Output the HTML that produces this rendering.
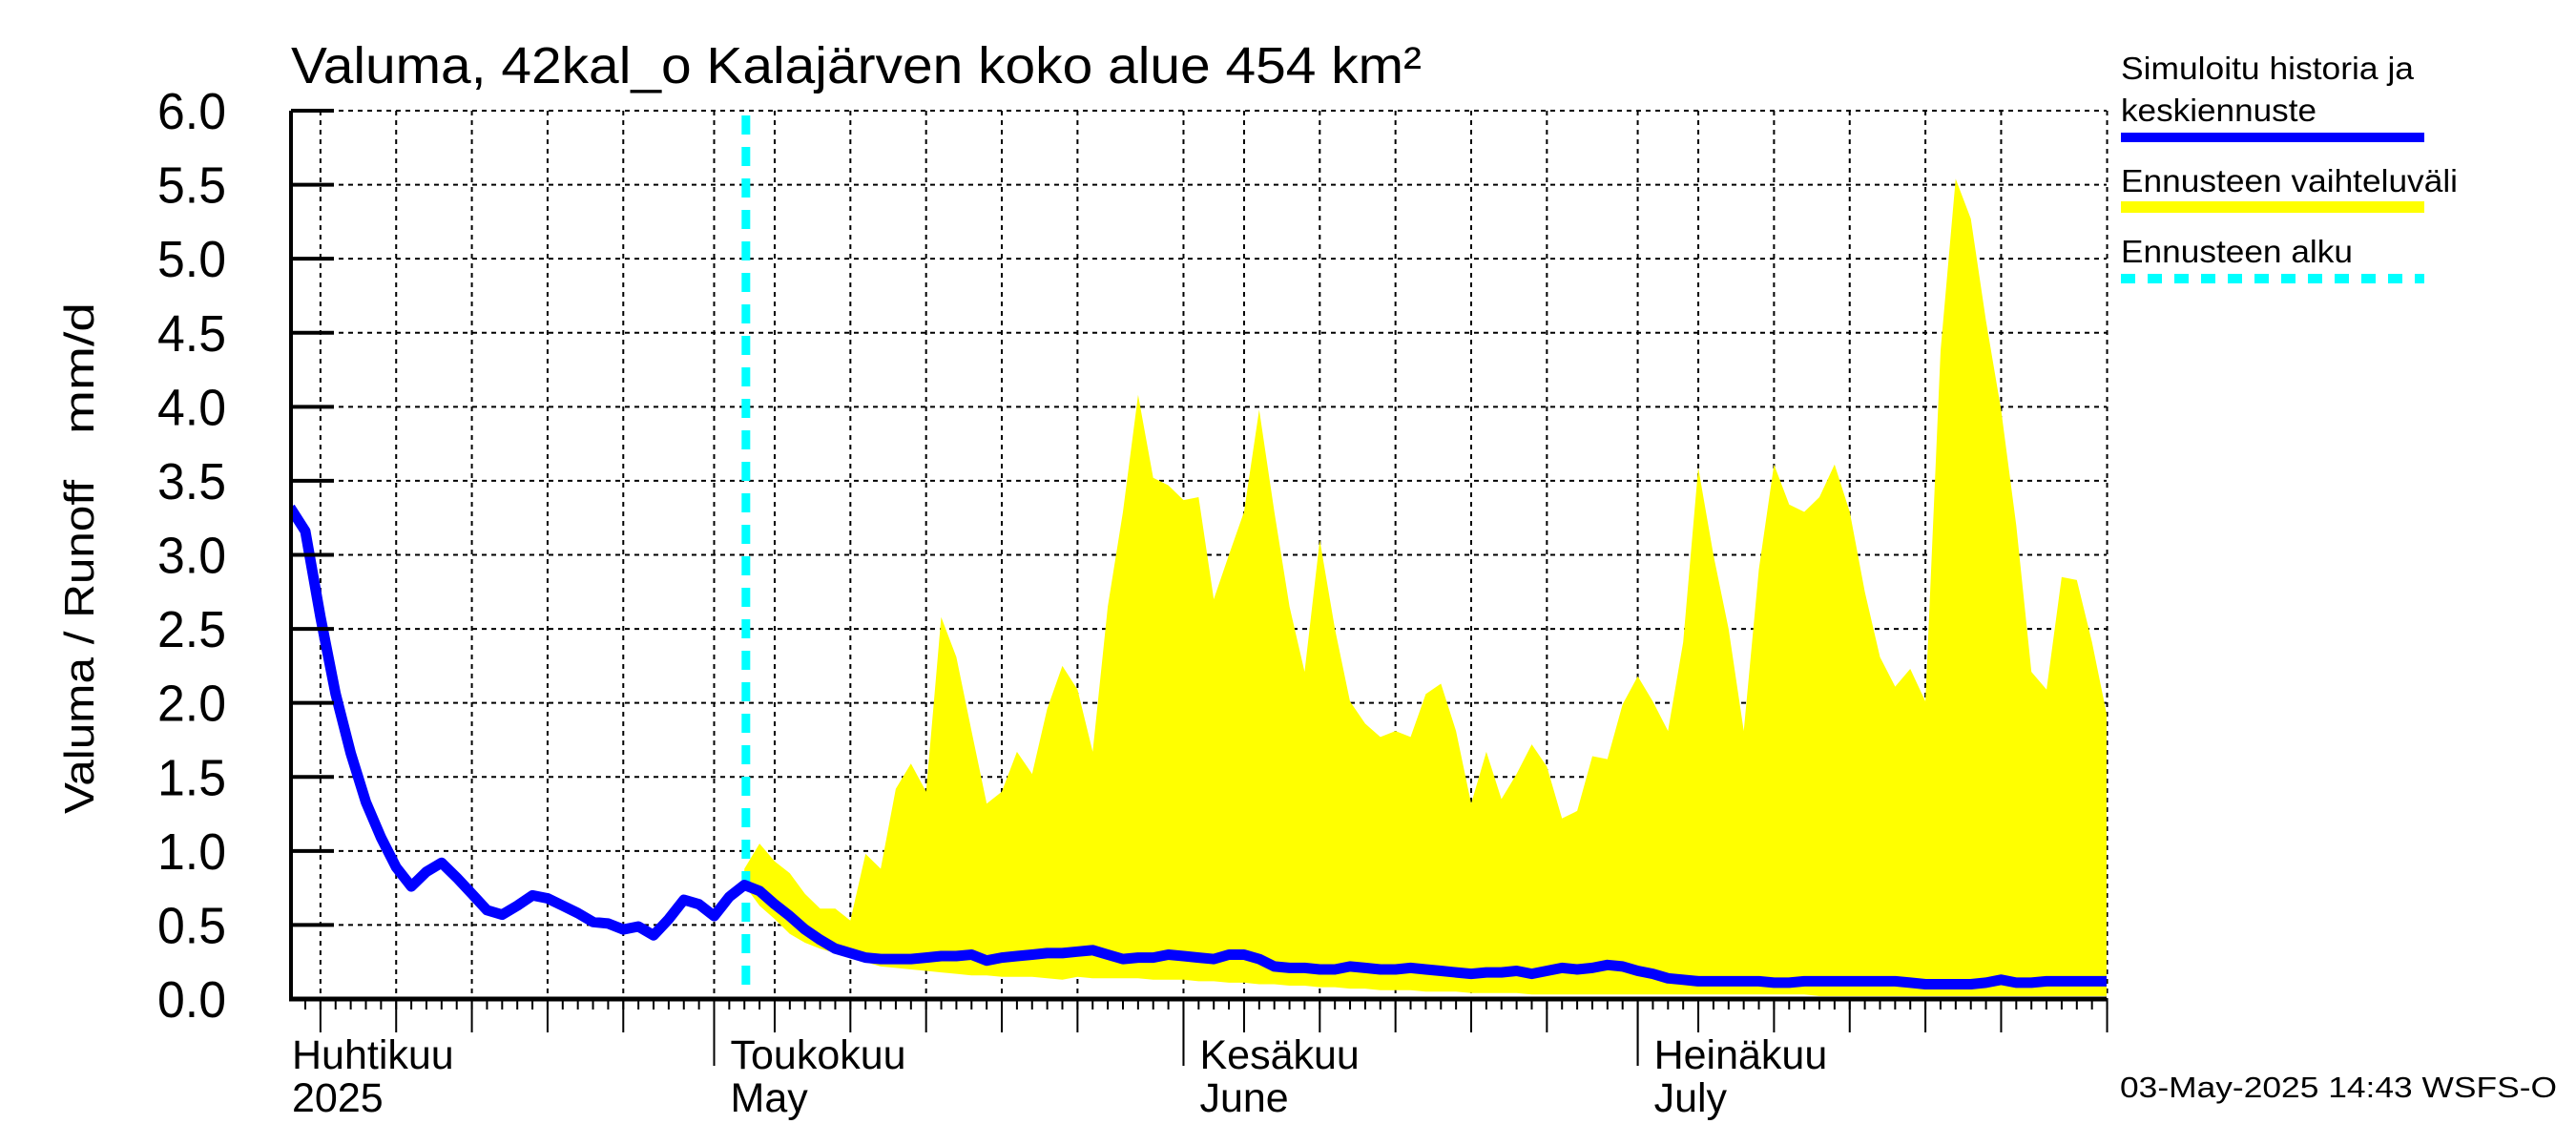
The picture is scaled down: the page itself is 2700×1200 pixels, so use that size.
<!DOCTYPE html>
<html><head><meta charset="utf-8"><style>
html,body{margin:0;padding:0;background:#fff;}
svg{display:block;font-family:"Liberation Sans",sans-serif;}
</style></head><body>
<svg id="chart" xmlns="http://www.w3.org/2000/svg" width="2700" height="1200" viewBox="0 0 2700 1200">
<defs><clipPath id="plotclip"><rect x="305" y="100" width="1903" height="947"/></clipPath></defs>
<g id="grid"></g>
<g id="band" clip-path="url(#plotclip)"></g>
<g id="lines" clip-path="url(#plotclip)"></g>
<g id="axes"></g>
<text x="305" y="87" font-size="54" textLength="1185" lengthAdjust="spacingAndGlyphs">Valuma, 42kal_o Kalajärven koko alue 454 km²</text>
<text transform="translate(98,678) rotate(-90)" text-anchor="middle" font-size="44" textLength="350" lengthAdjust="spacingAndGlyphs">Valuma / Runoff</text>
<text transform="translate(98,386) rotate(-90)" text-anchor="middle" font-size="44" textLength="138" lengthAdjust="spacingAndGlyphs">mm/d</text>
<g>
<text x="2223" y="83" font-size="33" textLength="307" lengthAdjust="spacingAndGlyphs">Simuloitu historia ja</text>
<text x="2223" y="127" font-size="33" textLength="205" lengthAdjust="spacingAndGlyphs">keskiennuste</text>
<rect x="2223" y="139" width="318" height="10" fill="#0000ff"/>
<text x="2223" y="201" font-size="33" textLength="353" lengthAdjust="spacingAndGlyphs">Ennusteen vaihteluväli</text>
<rect x="2223" y="211" width="318" height="12" fill="#ffff00"/>
<text x="2223" y="275" font-size="33" textLength="243" lengthAdjust="spacingAndGlyphs">Ennusteen alku</text>
<line x1="2223" y1="292" x2="2541" y2="292" stroke="#00ffff" stroke-width="10" stroke-dasharray="15,13"/>
</g>
<text x="2222" y="1150" font-size="31" textLength="458" lengthAdjust="spacingAndGlyphs">03-May-2025 14:43 WSFS-O</text>
</svg>
<script>
const yTicks = [0,0.5,1,1.5,2,2.5,3,3.5,4,4.5,5,5.5,6];
const yTickLabels = ["0.0","0.5","1.0","1.5","2.0","2.5","3.0","3.5","4.0","4.5","5.0","5.5","6.0"];
const monthDays = [30,61,91];
const monthLabels = ["Toukokuu","Kesäkuu","Heinäkuu"];
const monthLabels2 = ["May","June","July"];
const gridDays = [4,9,14,19,24,30,34,39,44,49,54,61,65,70,75,80,85,91,95,100,105,110,115,122];
const startDay = 2;
const forecastDay = 32.1;
const bandStart = 30;
const simulated = [3.32,3.16,2.58,2.06,1.66,1.33,1.09,0.89,0.76,0.86,0.92,0.82,0.71,0.60,0.57,0.63,0.70,0.68,0.63,0.58,
0.52,0.51,0.47,0.49,0.43,0.54,0.67,0.64,0.56,0.69,0.77,0.73,0.64,0.56,0.47,0.40,0.34,0.31,0.28,0.27,
0.27,0.27,0.28,0.29,0.29,0.30,0.26,0.28,0.29,0.30,0.31,0.31,0.32,0.33,0.30,0.27,0.28,0.28,0.30,0.29,
0.28,0.27,0.30,0.30,0.27,0.22,0.21,0.21,0.20,0.20,0.22,0.21,0.20,0.20,0.21,0.20,0.19,0.18,0.17,0.18,
0.18,0.19,0.17,0.19,0.21,0.20,0.21,0.23,0.22,0.19,0.17,0.14,0.13,0.12,0.12,0.12,0.12,0.12,0.11,0.11,
0.12,0.12,0.12,0.12,0.12,0.12,0.12,0.11,0.10,0.10,0.10,0.10,0.11,0.13,0.11,0.11,0.12,0.12,0.12,0.12,0.12];
const upper = [0.88,1.05,0.93,0.85,0.71,0.61,0.61,0.53,0.98,0.88,1.42,1.59,1.40,2.58,2.31,1.81,1.32,1.40,1.67,1.52,
1.96,2.25,2.09,1.67,2.65,3.29,4.08,3.52,3.47,3.37,3.39,2.70,3.00,3.29,3.98,3.29,2.65,2.21,3.10,2.50,
2.01,1.86,1.77,1.81,1.77,2.06,2.13,1.81,1.32,1.67,1.35,1.52,1.72,1.57,1.22,1.27,1.64,1.62,1.99,2.18,
2.01,1.81,2.41,3.59,3.00,2.50,1.81,2.90,3.61,3.34,3.29,3.39,3.61,3.29,2.75,2.31,2.11,2.23,2.01,4.38,
5.54,5.27,4.58,3.98,3.20,2.21,2.09,2.85,2.83,2.41,1.91];
const lower = [0.77,0.63,0.54,0.44,0.38,0.34,0.31,0.28,0.25,0.22,0.21,0.20,0.19,0.18,0.17,0.16,0.16,0.15,0.15,0.15,
0.14,0.13,0.15,0.14,0.14,0.14,0.14,0.13,0.13,0.13,0.12,0.12,0.11,0.11,0.10,0.10,0.09,0.09,0.08,0.08,
0.07,0.07,0.06,0.06,0.06,0.05,0.05,0.05,0.04,0.04,0.04,0.04,0.03,0.03,0.03,0.03,0.03,0.03,0.03,0.03,
0.03,0.03,0.03,0.03,0.03,0.03,0.03,0.03,0.03,0.03,0.03,0.02,0.02,0.02,0.02,0.02,0.02,0.02,0.02,0.02,
0.02,0.02,0.02,0.02,0.02,0.02,0.02,0.02,0.02,0.02,0.02];

const NS="http://www.w3.org/2000/svg";
const X0=305,X1=2208,Y0=1047,Y1=116;
function xScale(d){return 272.4+d*15.87;}
function yScale(v){return Y0-(v/6)*(Y0-Y1);}
function mk(tag,attrs,parent){const e=document.createElementNS(NS,tag);for(const k in attrs)e.setAttribute(k,attrs[k]);parent.appendChild(e);return e;}
const grid=document.getElementById('grid'),axes=document.getElementById('axes'),band=document.getElementById('band'),lines=document.getElementById('lines');

yTicks.forEach((v,i)=>{
  const y=yScale(v);
  if(i>0){const g=mk('line',{x1:X0,x2:X1,y1:y,y2:y,stroke:'#000','stroke-width':2,'stroke-dasharray':'5,5'},grid);
  
  }
  const t=mk('line',{x1:X0,x2:X0+45,y1:y,y2:y,stroke:'#000','stroke-width':4},axes);
  
  
  const l=mk('text',{x:237,y:y+19,'font-size':54,'text-anchor':'end',textLength:72,lengthAdjust:'spacingAndGlyphs'},axes);
  l.textContent=yTickLabels[i];
  
  
});
gridDays.forEach(d=>{
  const x=xScale(d);
  const g=mk('line',{x1:x,x2:x,y1:Y1,y2:Y0,stroke:'#000','stroke-width':2,'stroke-dasharray':'5,5'},grid);
  
  
  const isMonth=monthDays.indexOf(d)>=0;
  const t=mk('line',{x1:x,x2:x,y1:Y0,y2:Y0+(isMonth?70:35),stroke:'#000','stroke-width':2},axes);
  
  
});
for(let d=3;d<=122;d++){
  const t=mk('line',{x1:xScale(d),x2:xScale(d),y1:Y0,y2:Y0+11,stroke:'#000','stroke-width':2},axes);
  
  
}
monthDays.forEach((d,i)=>{
  const x=xScale(d);
  const t=mk('line',{x1:x,x2:x,y1:Y0,y2:Y0+70,stroke:'#000','stroke-width':2},axes);
  
  
  const a=mk('text',{x:x+17,y:1120,'font-size':43},axes);a.textContent=monthLabels[i];
  
  
  const b=mk('text',{x:x+17,y:1165,'font-size':43},axes);b.textContent=monthLabels2[i];
  
  
});
const ha=mk('text',{x:306,y:1120,'font-size':43},axes);ha.textContent="Huhtikuu";


const hb=mk('text',{x:306,y:1165,'font-size':43},axes);hb.textContent="2025";



let pts=[];
upper.forEach((v,i)=>pts.push(xScale(startDay+bandStart+i).toFixed(1)+','+yScale(v).toFixed(1)));
for(let i=lower.length-1;i>=0;i--)pts.push(xScale(startDay+bandStart+i).toFixed(1)+','+yScale(lower[i]).toFixed(1));
const poly=mk('polygon',{points:pts.join(' '),fill:'#ffff00',stroke:'none'},band);



const fx=xScale(forecastDay);
const fl=mk('line',{x1:fx,x2:fx,y1:Y1+5,y2:Y0,stroke:'#00ffff','stroke-width':9,'stroke-dasharray':'20,13'},lines);



const sp=simulated.map((v,i)=>xScale(startDay+i).toFixed(1)+','+yScale(v).toFixed(1)).join(' ');
const sl=mk('polyline',{points:sp,fill:'none',stroke:'#0000ff','stroke-width':11,'stroke-linejoin':'round'},lines);



const ax=mk('line',{x1:X0,x2:X0,y1:Y1,y2:Y0+2,stroke:'#000','stroke-width':4},axes);


const bx=mk('line',{x1:X0-2,x2:X1,y1:Y0,y2:Y0,stroke:'#000','stroke-width':5},axes);


</script>
</body></html>
